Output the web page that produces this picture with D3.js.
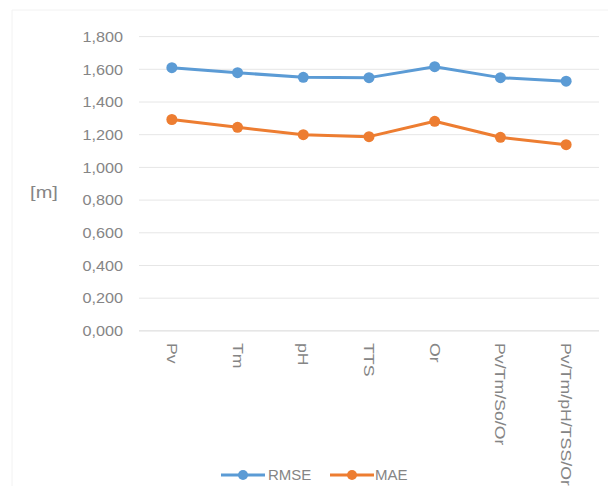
<!DOCTYPE html>
<html><head><meta charset="utf-8">
<script src="https://cdn.jsdelivr.net/npm/d3@7"></script>
<style>body{margin:0;background:#fff}svg{display:block}</style>
</head><body>
<script>
const categories = ["Pv","Tm","pH","TTS","Or","Pv/Tm/So/Or","Pv/Tm/pH/TSS/Or"];
const rmse = [1.610,1.579,1.551,1.549,1.616,1.549,1.527];
const mae = [1.293,1.245,1.200,1.188,1.282,1.184,1.139];
const yTicks = [0,0.2,0.4,0.6,0.8,1.0,1.2,1.4,1.6,1.8];
const seriesNames = ["RMSE","MAE"];
const colors = ["#5B9BD5","#ED7D31"];

(function(){
const W=608,H=486;
const svg=d3.select("body").append("svg").attr("width",W).attr("height",H);
const font="'Liberation Sans', Arial, sans-serif";
const txt="#858585";
const pl=139,pr=599,pt=36.6,pb=330.9;
const x=d3.scaleBand().domain(categories).range([pl,pr]);
const y=d3.scaleLinear().domain([0,1.8]).range([pb,pt]);

svg.append("path").attr("d",`M12,${H}V10H${W}`).attr("fill","none").attr("stroke","#f2f2f2");

svg.append("g").selectAll("line").data(yTicks).join("line")
  .attr("x1",pl).attr("x2",pr).attr("y1",d=>y(d)).attr("y2",d=>y(d))
  .attr("stroke",d=>d===0?"#d6d6d6":"#e6e6e6").attr("stroke-width",1);

svg.append("g").selectAll("text").data(yTicks).join("text")
  .attr("transform",d=>`translate(123,${y(d)}) scale(1.08,1)`)
  .attr("dy","0.35em").attr("text-anchor","end")
  .attr("font-family",font).attr("font-size",15).attr("fill",txt)
  .text(d=>d3.format(".3f")(d).replace(".",","));

svg.append("text").attr("transform","translate(44,192) scale(1.25,1)")
  .attr("dy","0.35em").attr("text-anchor","middle")
  .attr("font-family",font).attr("font-size",16).attr("fill",txt).text("[m]");

svg.append("g").selectAll("text").data(categories).join("text")
  .attr("transform",d=>`translate(${x(d)+x.bandwidth()/2},343) rotate(90) scale(1.25,1)`)
  .attr("dy","0.35em").attr("text-anchor","start")
  .attr("font-family",font).attr("font-size",14.2).attr("fill",txt).text(d=>d);

const line=d3.line().x((d,i)=>x(categories[i])+x.bandwidth()/2).y(d=>y(d));
[rmse,mae].forEach((s,k)=>{
  svg.append("path").datum(s).attr("d",line).attr("fill","none")
    .attr("stroke",colors[k]).attr("stroke-width",3).attr("stroke-linejoin","round");
  svg.append("g").selectAll("circle").data(s).join("circle")
    .attr("cx",(d,i)=>x(categories[i])+x.bandwidth()/2).attr("cy",d=>y(d)).attr("r",5.5)
    .attr("fill",colors[k]);
});

const leg=[{x:221,tx:268},{x:330,tx:375}];
seriesNames.forEach((n,k)=>{
  const g=svg.append("g");
  g.append("line").attr("x1",leg[k].x).attr("x2",leg[k].x+44).attr("y1",475).attr("y2",475)
    .attr("stroke",colors[k]).attr("stroke-width",3);
  g.append("circle").attr("cx",leg[k].x+22).attr("cy",475).attr("r",5).attr("fill",colors[k]);
  g.append("text").attr("x",leg[k].tx).attr("y",475).attr("dy","0.35em")
    .attr("font-family",font).attr("font-size",15).attr("fill",txt).text(n);
});
})();
</script>
</body></html>
